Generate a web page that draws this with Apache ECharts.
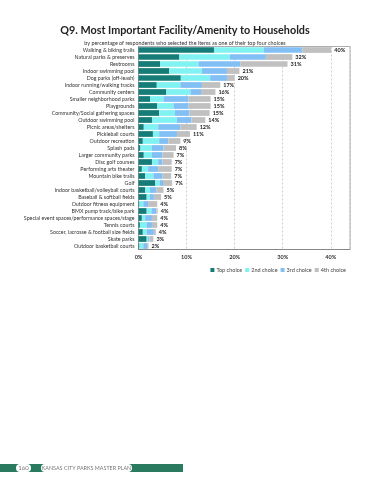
<!DOCTYPE html>
<html><head><meta charset="utf-8">
<script src="https://cdn.jsdelivr.net/npm/echarts@6/dist/echarts.min.js"></script>
<style>html,body{margin:0;padding:0;background:#fff}#c{width:370px;height:480px}</style>
</head><body><div id="c"></div>
<script>
const categories = ["Walking & biking trails","Natural parks & preserves","Restrooms","Indoor swimming pool","Dog parks (off-leash)","Indoor running/walking tracks","Community centers","Smaller neighborhood parks","Playgrounds","Community/Social gathering spaces","Outdoor swimming pool","Picnic areas/shelters","Pickleball courts","Outdoor recreation","Splash pads","Larger community parks","Disc golf courses","Performing arts theater","Mountain bike trails","Golf","Indoor basketball/volleyball courts","Baseball & softball fields","Outdoor fitness equipment","BMX pump track/bike park","Special event spaces/performance spaces/stage","Tennis courts","Soccer, lacrosse & football size fields","Skate parks","Outdoor basketball courts"];
const topChoice    = [15.7,8.5,4.5,6.4,8.8,3.8,5.8,2.4,3.9,4.3,2.8,1.1,3.0,0.9,0.4,1.1,2.8,0.7,1.4,3.5,1.4,1.7,0.2,1.7,0.7,0.3,0.9,1.7,0.2];
const secondChoice = [10.4,10.5,8.0,6.8,6.1,4.9,5.0,2.8,3.4,3.3,5.2,3.0,1.3,3.4,2.4,1.7,1.3,1.3,1.7,0.9,1.0,0.7,0.8,1.0,0.7,1.4,0.8,0.3,0.8];
const thirdChoice  = [8.0,7.5,8.7,5.2,3.5,4.5,2.2,5.2,3.1,3.0,3.0,4.6,3.7,1.9,2.4,2.2,0.9,2.1,1.9,0.7,1.3,0.8,1.0,1.0,1.4,1.1,1.5,0.3,0.8];
const fourthChoice = [6.0,5.5,9.8,2.6,1.6,3.8,3.0,4.6,4.6,4.2,2.9,3.4,2.7,2.5,2.6,2.3,1.9,2.8,1.8,1.9,1.5,1.5,1.9,0.3,1.1,1.1,0.4,0.8,0.3];
const totalLabels  = ["40%","32%","31%","21%","20%","17%","16%","15%","15%","15%","14%","12%","11%","9%","8%","7%","7%","7%","7%","7%","5%","5%","4%","4%","4%","4%","4%","3%","2%"];
const seriesNames = ["Top choice","2nd choice","3rd choice","4th choice"];
const xTicks = [0,10,20,30,40];

const colors = ['#167c78','#80f2f2','#82bff4','#c0c0c0'];
const font = 'Lato, "Liberation Sans", sans-serif';
const chart = echarts.init(document.getElementById('c'));
const dataSets = [topChoice, secondChoice, thirdChoice, fourthChoice];
const series = dataSets.map((d, i) => ({
  name: seriesNames[i], type: 'bar', stack: 'all', data: d,
  barCategoryGap: '18%',
  itemStyle: { color: colors[i] },
  label: i === 3 ? {
    show: true, position: 'right', distance: 3,
    formatter: p => totalLabels[p.dataIndex],
    fontSize: 5.5, fontWeight: 'bold', color: '#222', fontFamily: font
  } : { show: false }
}));
chart.setOption({
  animation: false,
  title: [{
    text: 'Q9. Most Important Facility/Amenity to Households',
    left: 'center', top: 20,
    textStyle: { fontSize: 10.8, fontWeight: 'bold', color: '#222', fontFamily: font }
  }, {
    text: 'by percentage of respondents who selected the items as one of their top four choices',
    left: 'center', top: 35.5,
    textStyle: { fontSize: 5.4, fontWeight: 'normal', color: '#333', fontFamily: font }
  }],
  legend: {
    data: seriesNames, right: 19, top: 262, itemWidth: 4, itemHeight: 4, itemGap: 3,
    textStyle: { fontSize: 5.5, color: '#444', fontFamily: font, padding: [0,0,0,-3] },
    icon: 'rect'
  },
  grid: { left: 138.5, right: 20, top: 46.5, bottom: 230.5, show: true, borderColor: '#999', borderWidth: 0.8 },
  xAxis: {
    type: 'value', min: 0, max: 44, interval: 10,
    axisLine: { show: true, lineStyle: { color: '#888' } },
    axisTick: { show: false },
    axisLabel: { showMaxLabel: false, formatter: v => xTicks.includes(v) ? v + '%' : '', fontSize: 5.5, fontWeight: 'bold', color: '#333', fontFamily: font, margin: 5 },
    splitLine: { show: true, lineStyle: { color: '#bbb', type: [2, 2], width: 0.7 } }
  },
  yAxis: {
    type: 'category', data: categories, inverse: true,
    axisLine: { show: true, lineStyle: { color: '#999' } },
    axisTick: { show: false },
    axisLabel: { fontSize: 5.3, color: '#333', fontFamily: font, margin: 4, interval: 0 }
  },
  graphic: [
    { type: 'rect', shape: { x: 0, y: 464, width: 183, height: 8 }, style: { fill: '#2a7a60' } },
    { type: 'rect', shape: { x: 16, y: 464, width: 15, height: 8, r: 4 }, style: { fill: '#fff' } },
    { type: 'text', x: 23.5, y: 468, style: { text: '160', fontSize: 6, fill: '#777', align: 'center', verticalAlign: 'middle', fontFamily: font } },
    { type: 'rect', shape: { x: 41, y: 464, width: 91, height: 8, r: 4 }, style: { fill: '#fff' } },
    { type: 'text', x: 86.5, y: 468, style: { text: 'KANSAS CITY PARKS MASTER PLAN', fontSize: 5.4, fill: '#777', align: 'center', verticalAlign: 'middle', fontFamily: font } }
  ],
  series: series
});
</script></body></html>
